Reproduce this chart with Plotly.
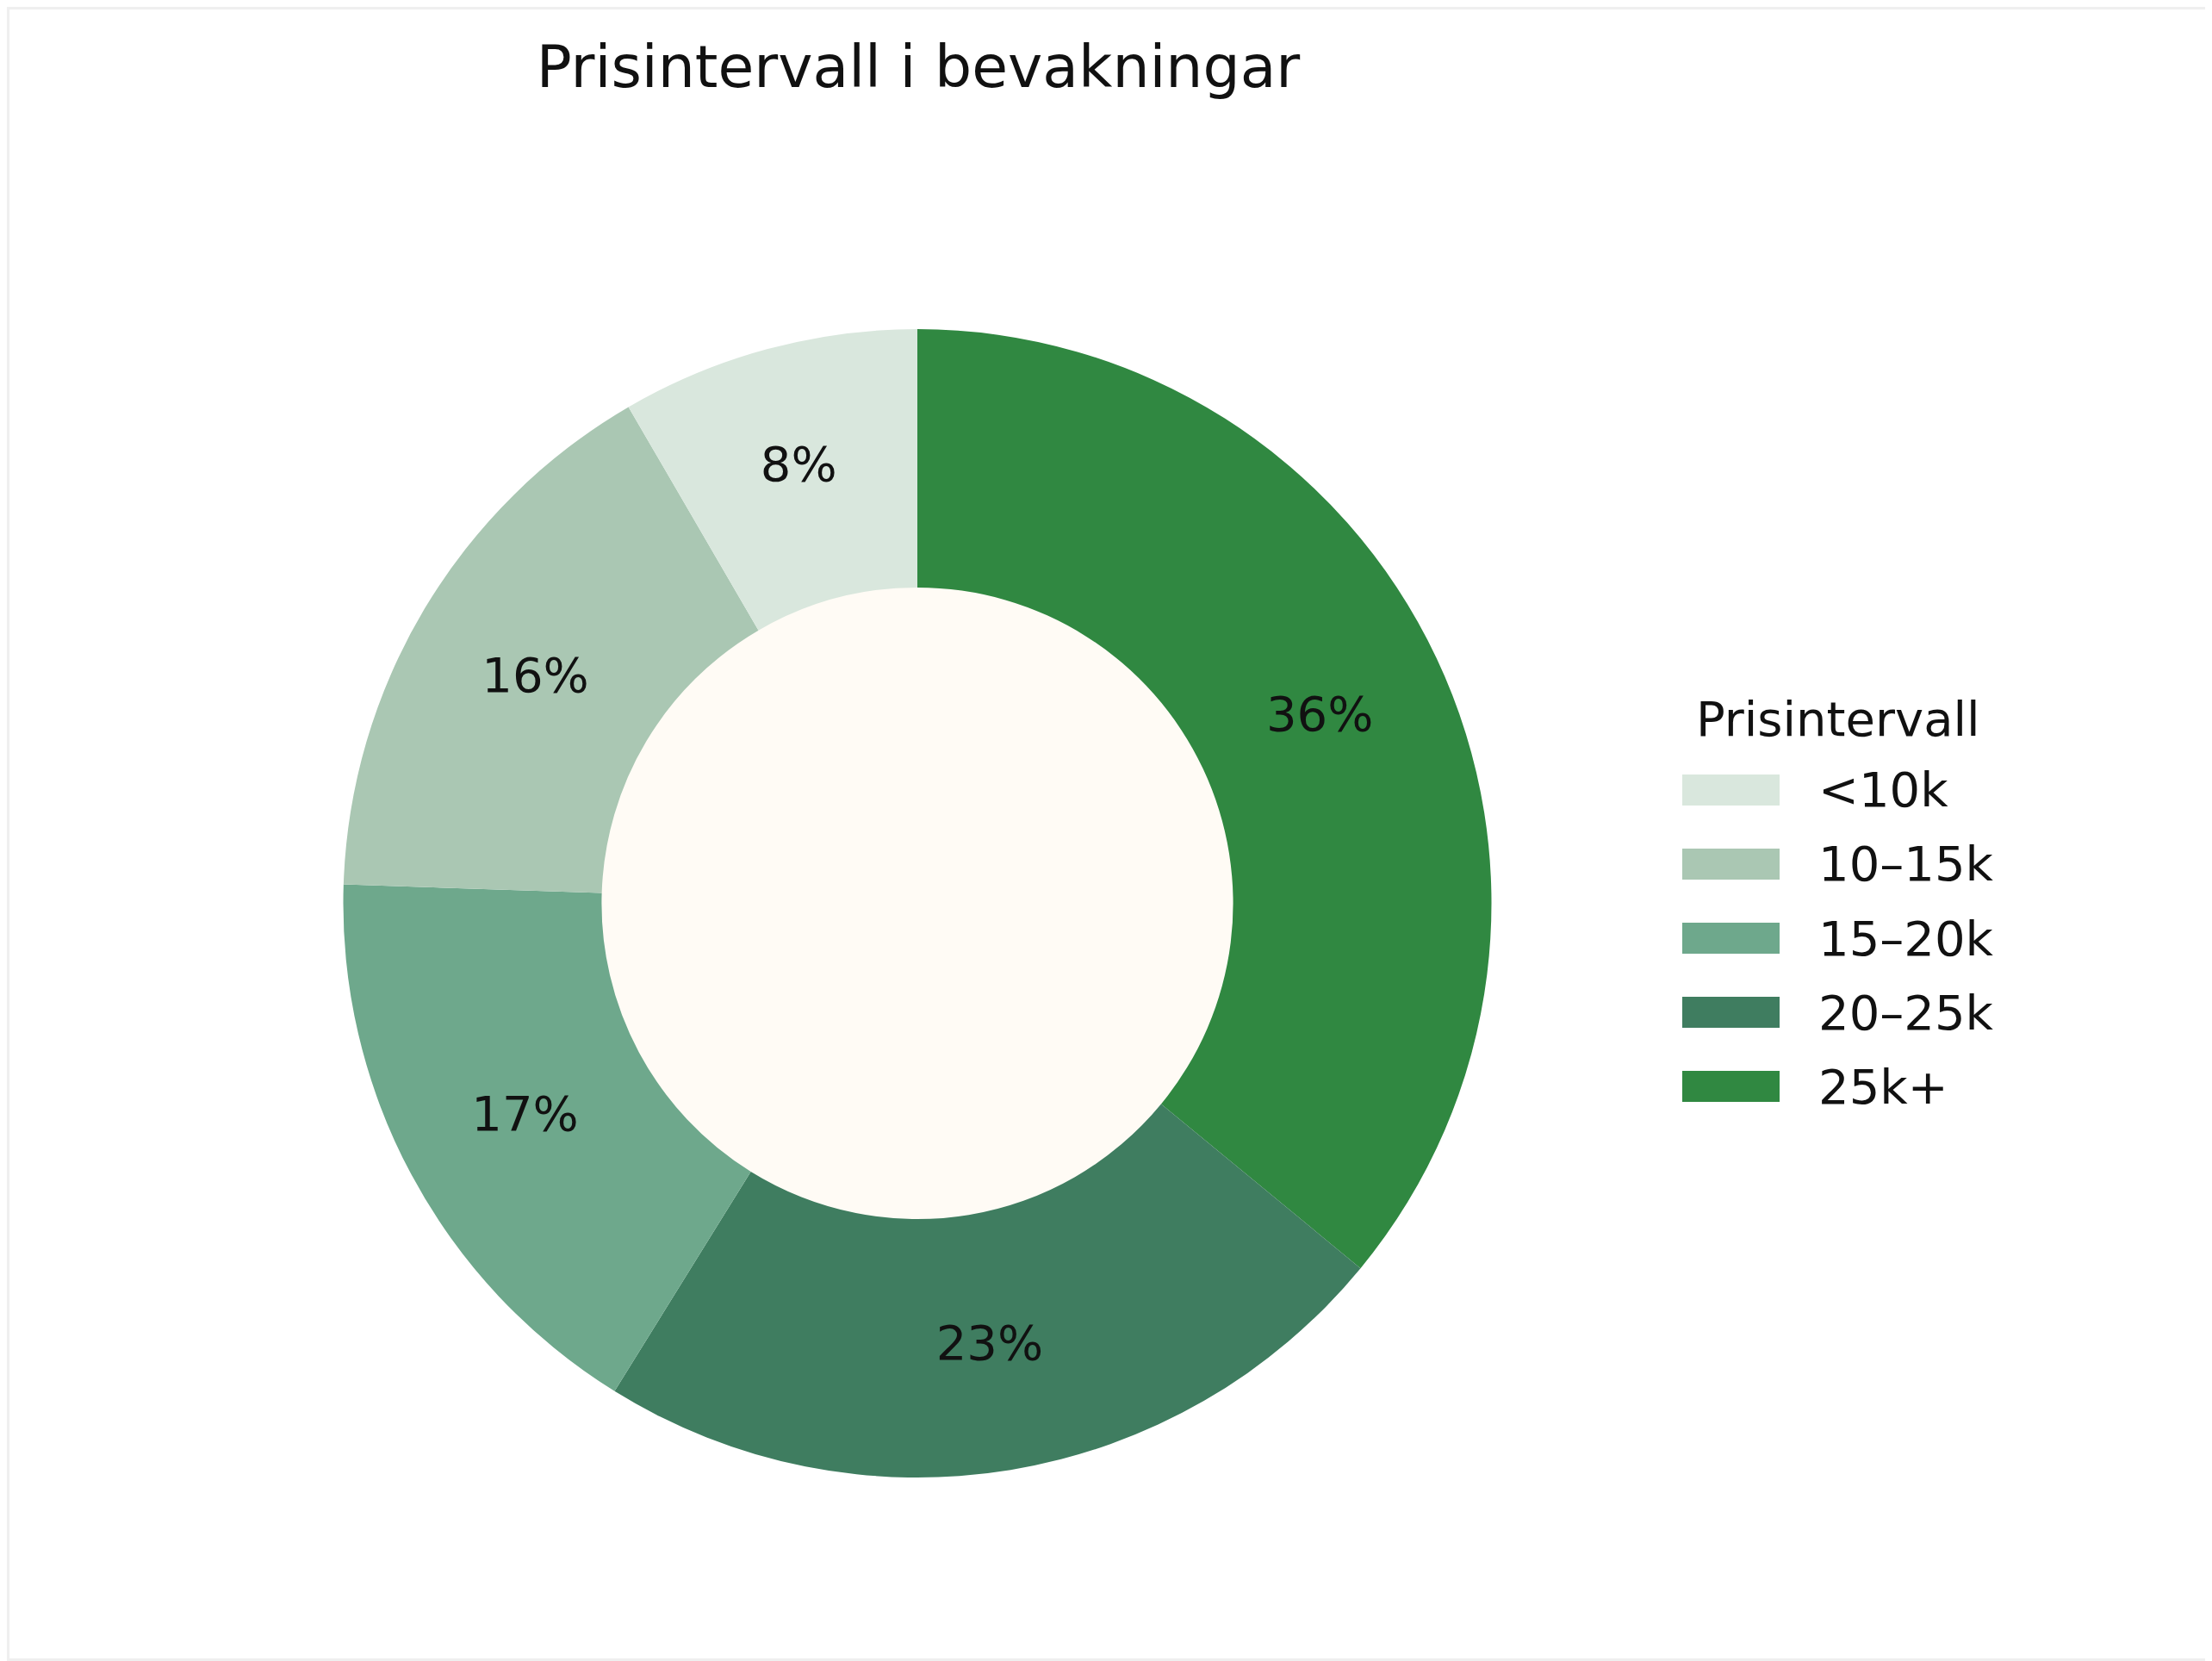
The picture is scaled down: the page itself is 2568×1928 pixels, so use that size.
import plotly.graph_objects as go

# price bands and share of watches
categories = ["<10k", "10–15k", "15–20k", "20–25k", "25k+"]
shares = [8.4, 16.1, 16.7, 22.9, 36.0]
colors = ["#D9E7DD", "#AAC7B3", "#6EA88C", "#3F7D60", "#308841"]

# page is offset by the browser's 8px body margin
OFF = 8
W, H = 2568 - OFF, 1928 - OFF
FONT = "DejaVu Sans"


def px(x):
    return (x - OFF) / W


def py(y):
    return 1 - (y - OFF) / H


# pie geometry in page pixels
cx, cy, R = 1065, 1048.5, 666.5
hole = 0.55

# first band starts at 12 o'clock and runs counter-clockwise,
# i.e. clockwise through the reversed list
fig = go.Figure(go.Pie(
    labels=categories[::-1],
    values=shares[::-1],
    marker=dict(colors=colors[::-1], line=dict(width=0)),
    hole=hole,
    sort=False,
    direction="clockwise",
    rotation=0,
    texttemplate="%{percent:.0%}",
    textposition="inside",
    insidetextorientation="horizontal",
    textfont=dict(family=FONT, size=56, color="#111111"),
    domain=dict(x=[px(cx - R), px(cx + R)], y=[py(cy + R), py(cy - R)]),
    showlegend=False,
))

shapes = []
# cream centre of the donut
r_in = R * hole + 3
shapes.append(dict(type="circle", xref="paper", yref="paper", layer="below",
                   x0=px(cx - r_in), x1=px(cx + r_in),
                   y0=py(cy + r_in), y1=py(cy - r_in),
                   fillcolor="#FFFBF5", line=dict(width=0)))
# faint frame
shapes.append(dict(type="rect", xref="paper", yref="paper",
                   x0=0, x1=1, y0=0, y1=1,
                   line=dict(color="#EFEFEF", width=6)))

annotations = []
# legend drawn by hand so the patches match the wide swatches
row0, row_step = 917, 86
annotations.append(dict(text="Prisintervall", x=px(2134), y=py(834),
                        xref="paper", yref="paper", xanchor="center", yanchor="middle",
                        showarrow=False, font=dict(family=FONT, size=56, color="#111111")))
for i, (lab, col) in enumerate(zip(categories, colors)):
    yc = row0 + i * row_step
    shapes.append(dict(type="rect", xref="paper", yref="paper",
                       x0=px(1953), x1=px(2066),
                       y0=py(yc + 18), y1=py(yc - 18),
                       fillcolor=col, line=dict(width=0)))
    annotations.append(dict(text=lab, x=px(2109), y=py(yc),
                            xref="paper", yref="paper", xanchor="left", yanchor="middle",
                            showarrow=False, font=dict(family=FONT, size=56, color="#111111")))

fig.update_layout(
    width=W,
    height=H,
    margin=dict(l=0, r=0, t=0, b=0),
    paper_bgcolor="white",
    plot_bgcolor="white",
    title=dict(text="Prisintervall i bevakningar", x=px(1066), xanchor="center",
               y=py(77), yanchor="middle", yref="container",
               font=dict(family=FONT, size=68, color="#111111")),
    shapes=shapes,
    annotations=annotations,
)

fig.write_html("out.html")
